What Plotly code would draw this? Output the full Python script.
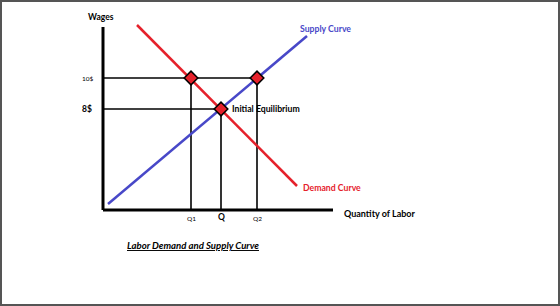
import plotly.graph_objects as go

# --- data (schematic units) ---
q_labels = ["Q1", "Q", "Q2"]
q_values = [8.8, 11.8, 15.4]
w_labels = ["10$", "8$"]
w_values = [13.2, 10.1]

demand_x = [3.4, 19.4]
demand_y = [18.5, 2.4]
supply_x = [0.5, 20.4]
supply_y = [0.6, 17.4]

axis_x_end = 23.0
axis_y_end = 18.3

# marker points: (Q1,10$) on demand, (Q2,10$) on supply, (Q,8$) equilibrium
pts_x = [q_values[0], q_values[2], q_values[1]]
pts_y = [w_values[0], w_values[0], w_values[1]]

RED = "#e5212b"
BLUE = "#4848c8"
FONT = "Lato"

fig = go.Figure()

# guide lines
guides = [
    ([0, q_values[2]], [w_values[0], w_values[0]]),
    ([0, q_values[1]], [w_values[1], w_values[1]]),
    ([q_values[0], q_values[0]], [0, w_values[0]]),
    ([q_values[1], q_values[1]], [0, w_values[1]]),
    ([q_values[2], q_values[2]], [0, w_values[0]]),
]
for gx, gy in guides:
    fig.add_trace(go.Scatter(x=gx, y=gy, mode="lines",
                             line=dict(color="black", width=1.6),
                             hoverinfo="skip", showlegend=False))

# axes
fig.add_trace(go.Scatter(x=[0, 0], y=[axis_y_end, 0], mode="lines",
                         line=dict(color="black", width=3), showlegend=False))
fig.add_trace(go.Scatter(x=[0, axis_x_end], y=[0, 0], mode="lines",
                         line=dict(color="black", width=3), showlegend=False))

# curves
fig.add_trace(go.Scatter(x=demand_x, y=demand_y, mode="lines",
                         line=dict(color=RED, width=2.5), showlegend=False))
fig.add_trace(go.Scatter(x=supply_x, y=supply_y, mode="lines",
                         line=dict(color=BLUE, width=2.5), showlegend=False))

# markers
fig.add_trace(go.Scatter(x=pts_x, y=pts_y, mode="markers",
                         marker=dict(symbol="diamond", size=10.5, color=RED,
                                     line=dict(color="black", width=1.5)),
                         showlegend=False))

ann = []
def txt(x, y, t, size, color="black", xanchor="center", bold=True):
    s = f"<b>{t}</b>" if bold else t
    ann.append(dict(x=x, y=y, xref="x", yref="y", text=s, showarrow=False,
                    xanchor=xanchor, yanchor="middle",
                    font=dict(family=FONT, size=size, color=color)))

txt(-0.2, 19.3, "Wages", 8.5)
txt(-1.5, w_values[0], w_labels[0], 6.5, bold=False)
txt(-1.6, w_values[1], w_labels[1], 8.5)
txt(q_values[0], -0.85, q_labels[0], 6.5, bold=False)
txt(q_values[1], -0.7, q_labels[1], 8.5)
txt(q_values[2], -0.85, q_labels[2], 6.5, bold=False)
txt(23.9, -0.35, "Quantity of Labor", 9, xanchor="left")
txt(19.5, 18.2, "Supply Curve", 8.7, color=BLUE, xanchor="left")
txt(19.8, 2.3, "Demand Curve", 8.7, color=RED, xanchor="left")
txt(12.7, 10.2, "Initial Equilibrium", 8.7, xanchor="left")
ann.append(dict(x=8.95, y=-3.5, xref="x", yref="y",
                text="<b><i><u>Labor Demand and Supply Curve</u></i></b>",
                showarrow=False, xanchor="center", yanchor="middle",
                font=dict(family=FONT, size=9.6, color="black")))

fig.update_layout(
    width=560, height=306,
    margin=dict(l=0, r=0, t=0, b=0),
    paper_bgcolor="white", plot_bgcolor="white",
    xaxis=dict(range=[-10.3, 45.7], visible=False, fixedrange=True),
    yaxis=dict(range=[-9.6, 21.0], visible=False, fixedrange=True),
    annotations=ann,
    shapes=[dict(type="rect", xref="paper", yref="paper", x0=0, y0=0, x1=1, y1=1,
                 line=dict(color="#555555", width=4))],
    showlegend=False,
)

fig.write_html("out.html")
